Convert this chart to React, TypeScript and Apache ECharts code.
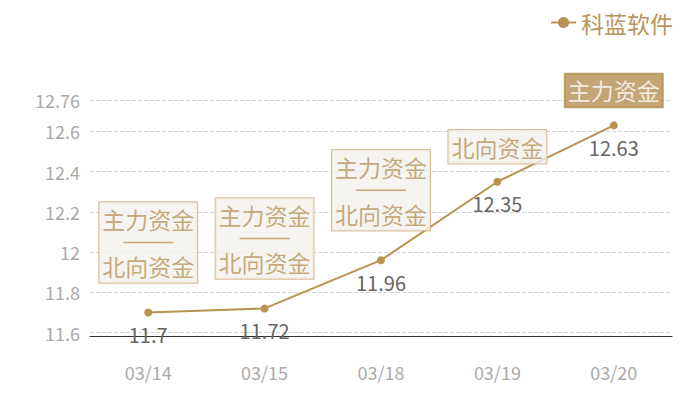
import { useEffect, useRef } from "react";
import * as echarts from "echarts";

const dates = ["03/14", "03/15", "03/18", "03/19", "03/20"];
const prices = [11.7, 11.72, 11.96, 12.35, 12.63];
const flowTags = [
  ["主力资金", "北向资金"],
  ["主力资金", "北向资金"],
  ["主力资金", "北向资金"],
  ["北向资金"],
  ["主力资金"],
];
const seriesName = "科蓝软件";

const GOLD = "#b8924f";
const TAG_TEXT = "#b8955a";

export default function App() {
  const chartRef = useRef<HTMLDivElement | null>(null);

  useEffect(() => {
    if (!chartRef.current) {
      return;
    }

    const chart = echarts.init(chartRef.current, undefined, { renderer: "svg" });

    // boxes above each point; the lone 主力资金 tag is drawn solid
    const tagData = prices.map((value, i) => {
      const tags = flowTags[i];
      const solid = tags.length === 1 && tags[0] === "主力资金";
      return {
        value,
        label: {
          show: true,
          position: "inside",
          offset: [0, tags.length > 1 ? -70 : -35],
          formatter: tags.join("\n{dash| }\n"),
          color: solid ? "#ffffff" : TAG_TEXT,
          backgroundColor: solid ? "#b58f53" : "#f4f1ec",
          borderColor: solid ? "#b58f53" : "#cdae7e",
          borderWidth: 1,
          padding: [5, 3],
          fontSize: 23,
          lineHeight: 23.5,
          rich: {
            dash: {
              fontSize: 1,
              width: 50,
              height: 1.5,
              lineHeight: 23.5,
              backgroundColor: TAG_TEXT,
            },
          },
        },
      };
    });

    chart.setOption({
      backgroundColor: "#ffffff",
      animation: false,
      textStyle: {
        fontFamily: "Noto Sans CJK SC",
      },
      legend: {
        data: [seriesName],
        right: 22,
        top: 6,
        itemWidth: 25,
        itemHeight: 14,
        itemGap: 10,
        textStyle: {
          color: TAG_TEXT,
          fontSize: 23,
        },
      },
      grid: {
        left: 90,
        right: 28,
        top: 100,
        bottom: 64,
        outerBoundsMode: "none",
      },
      xAxis: {
        type: "category",
        data: dates,
        axisLine: { lineStyle: { color: "#333333", width: 1 } },
        axisTick: { show: false },
        axisLabel: {
          color: "#aaaaaa",
          fontSize: 18,
          margin: 27,
        },
        splitLine: { show: false },
      },
      yAxis: {
        type: "value",
        min: (v: { min: number }) => v.min * 0.99,
        max: (v: { max: number }) => v.max * 1.01,
        axisLine: { show: false },
        axisTick: { show: false },
        axisLabel: {
          color: "#aaaaaa",
          fontSize: 18,
          margin: 10,
          showMinLabel: false,
          showMaxLabel: true,
          formatter: (v: number) => String(Number(v.toFixed(2))),
        },
        splitLine: {
          lineStyle: { color: "#d4d4d4", type: "dashed", width: 1 },
        },
      },
      series: [
        {
          name: seriesName,
          type: "line",
          data: prices,
          symbol: "circle",
          symbolSize: 8,
          itemStyle: { color: GOLD },
          lineStyle: { color: GOLD, width: 2 },
          label: {
            show: true,
            position: "bottom",
            distance: 8,
            color: "#666666",
            fontSize: 20,
          },
          z: 2,
        },
        {
          name: "tags",
          type: "scatter",
          data: tagData,
          symbolSize: 0,
          silent: true,
          z: 3,
        },
      ],
    });

    const handleResize = () => chart.resize();
    window.addEventListener("resize", handleResize);

    return () => {
      window.removeEventListener("resize", handleResize);
      chart.dispose();
    };
  }, []);

  return (
    <div
      ref={chartRef}
      style={{ position: "fixed", left: 0, top: 0, width: 700, height: 400 }}
    />
  );
}
